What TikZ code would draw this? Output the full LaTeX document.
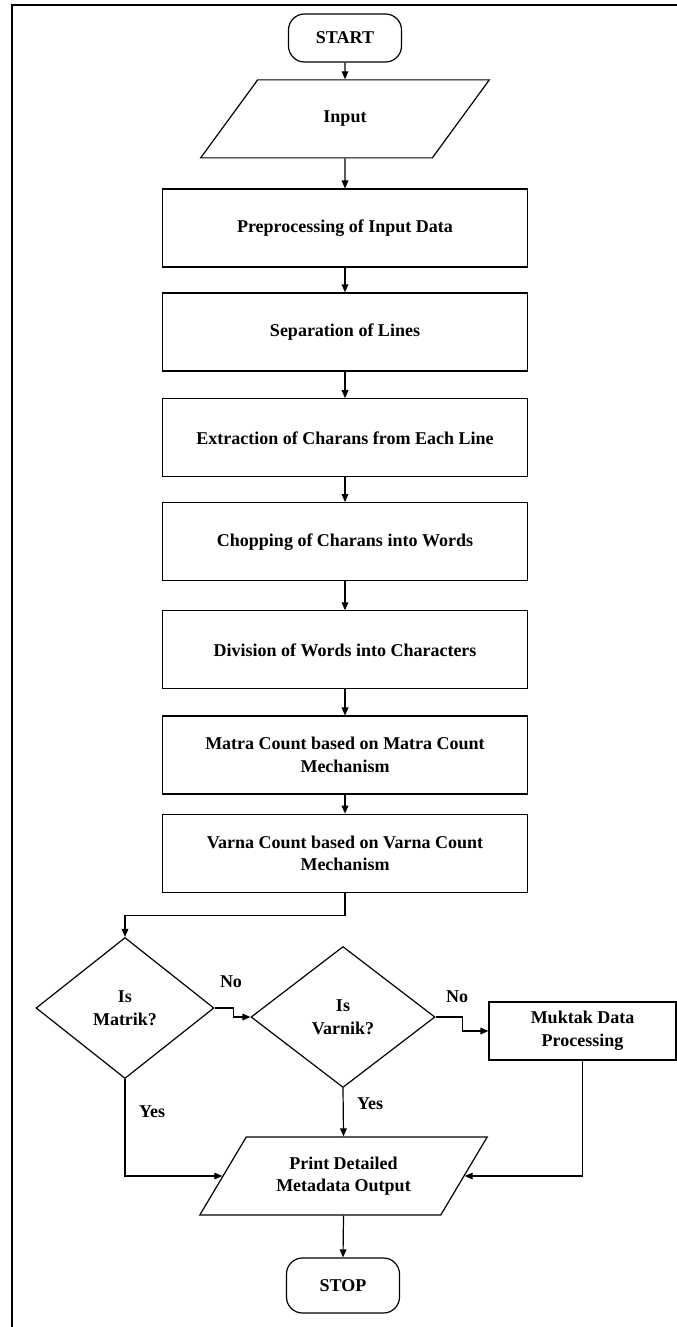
\documentclass[tikz,border=0pt]{standalone}
\usepackage{fontspec}
\setmainfont{Liberation Serif}
\usepackage{tikz}
\usetikzlibrary{shapes.geometric, arrows.meta, positioning}
\tikzstyle{base} = [draw=black, line width=0.9pt, text centered, align=center, font=\fontsize{13.5}{17}\selectfont\bfseries, inner sep=2pt]
\tikzstyle{term} = [base, rectangle, rounded corners=12pt, minimum width=84.75pt, minimum height=36pt]
\tikzstyle{io} = [base, trapezium, trapezium left angle=53, trapezium right angle=127, trapezium stretches=true, minimum width=217.5pt, minimum height=58.5pt]
\tikzstyle{proc} = [base, rectangle, minimum width=273.75pt, minimum height=58.5pt]
\tikzstyle{dec} = [base, diamond, minimum width=136pt, minimum height=105.75pt, inner sep=0pt]
\tikzstyle{arr} = [-{Triangle[length=6pt, width=5pt]}, line width=0.9pt]
\tikzstyle{lab} = [font=\fontsize{13.5}{16}\selectfont\bfseries]

\begin{document}
\begin{tikzpicture}[x=0.75pt, y=-0.75pt]
  \useasboundingbox (0,0) rectangle (677,1327);
  \draw[line width=1.3pt] (12,1327) -- (12,5) -- (677,5);
  % Main column
  \node[term] (start) at (345,38) {START};
  \node[io, below=12.5pt of start] (inp) {Input};
  \node[proc, below=22.5pt of inp] (prep) {Preprocessing of Input Data};
  \node[proc, below=18.5pt of prep] (sep) {Separation of Lines};
  \node[proc, below=20pt of sep] (extr) {Extraction of Charans from Each Line};
  \node[proc, below=18.5pt of extr] (chop) {Chopping of Charans into Words};
  \node[proc, below=21.75pt of chop] (divi) {Division of Words into Characters};
  \node[proc, below=19.5pt of divi] (matra) {Matra Count based on Matra Count\\Mechanism};
  \node[proc, below=14.25pt of matra] (varna) {Varna Count based on Varna Count\\Mechanism};
  % Decisions
  \node[dec, minimum width=133.5pt] (matrik) at (125,1008) {Is\\Matrik?};
  \node[dec, minimum width=138pt] (varnik) at (343,1017) {Is\\Varnik?};
  \node[proc, minimum width=140.25pt, minimum height=43.5pt] (mukt) at (582.5,1031) {Muktak Data\\Processing};
  % Output
  \node[io, minimum width=216pt] (print) at (343.5,1176) {Print Detailed\\Metadata Output};
  \node[term, minimum height=41.25pt] (stop) at (343,1285.5) {STOP};
  % Labels
  \node[lab] (no1) at (231,982) {No};
  \node[lab] (no2) at (457,997) {No};
  \node[lab] (yes1) at (152,1112) {Yes};
  \node[lab] (yes2) at (370,1104) {Yes};
  \draw[arr] (start) -- (inp);
  \draw[arr] (inp) -- (prep);
  \draw[arr] (prep) -- (sep);
  \draw[arr] (sep) -- (extr);
  \draw[arr] (extr) -- (chop);
  \draw[arr] (chop) -- (divi);
  \draw[arr] (divi) -- (matra);
  \draw[arr] (matra) -- (varna);
  \draw[arr] (varna.south) -- ++(0,-17pt) -| (matrik.north);
  \draw[arr] (matrik.east) -- ++(14pt,0) |- (varnik.west);
  \draw[arr] (varnik.east) -- ++(20pt,0) |- (mukt.west);
  \draw[arr] (matrik.south) |- (print.left side);
  \draw[arr] (varnik.south) -- (print.north);
  \draw[arr] (mukt.south) |- (print.right side);
  \draw[arr] (print.south) -- (stop.north);
\end{tikzpicture}
\end{document}
